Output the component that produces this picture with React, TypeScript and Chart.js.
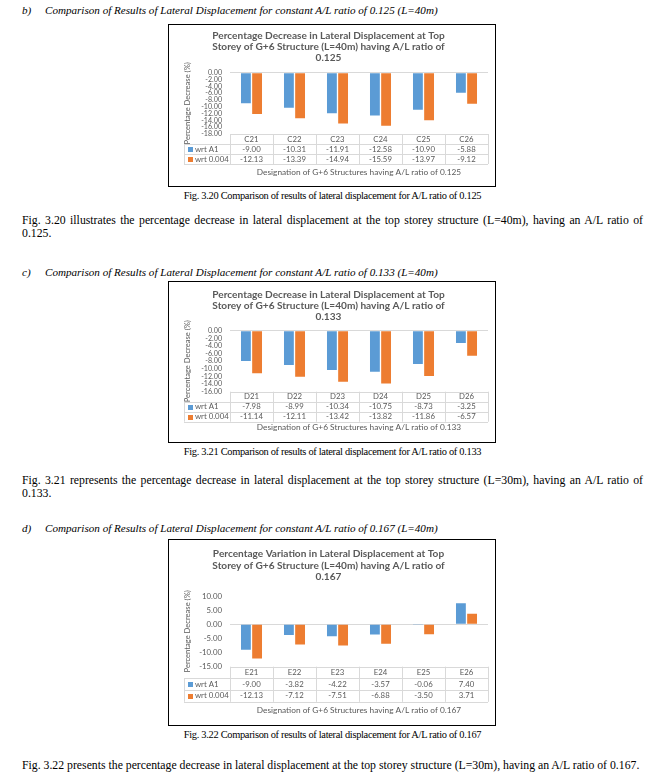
import React, { useEffect, useRef } from 'react';
import { Chart, registerables } from 'chart.js';
Chart.register(...registerables);

const SERIES = ['wrt A1', 'wrt 0.004'];
const COLORS = ['#5B9BD5', '#ED7D31'];

const CAT_C = ['C21', 'C22', 'C23', 'C24', 'C25', 'C26'];
const A1_C = [-9.0, -10.31, -11.91, -12.58, -10.9, -5.88];
const B_C = [-12.13, -13.39, -14.94, -15.59, -13.97, -9.12];

const CAT_D = ['D21', 'D22', 'D23', 'D24', 'D25', 'D26'];
const A1_D = [-7.98, -8.99, -10.34, -10.75, -8.73, -3.25];
const B_D = [-11.14, -12.11, -13.42, -13.82, -11.86, -6.57];

const CAT_E = ['E21', 'E22', 'E23', 'E24', 'E25', 'E26'];
const A1_E = [-9.0, -3.82, -4.22, -3.57, -0.06, 7.4];
const B_E = [-12.13, -7.12, -7.51, -6.88, -3.5, 3.71];

const TITLE_C = ['Percentage Decrease in Lateral Displacement at Top', 'Storey of G+6 Structure (L=40m) having A/L ratio of', '0.125'];
const TITLE_D = ['Percentage Decrease in Lateral Displacement at Top', 'Storey of G+6 Structure (L=40m) having A/L ratio of', '0.133'];
const TITLE_E = ['Percentage Variation in Lateral Displacement at Top', 'Storey of G+6 Structure (L=40m) having A/L ratio of', '0.167'];
const XT_C = 'Designation of G+6 Structures having A/L ratio of 0.125';
const XT_D = 'Designation of G+6 Structures having A/L ratio of 0.133';
const XT_E = 'Designation of G+6 Structures having A/L ratio of 0.167';
const Y_TITLE = 'Percentage Decrease (%)';

const FONT = 'Lato';
const TXT = '#595959';

const tablePlugin = {
  id: 'dataTable',
  afterDraw(chart: any, _args: any, opts: any) {
    const { ctx, chartArea } = chart;
    const xs = chart.scales.x;
    const n = opts.categories.length;
    const left = chartArea.left;
    const right = chartArea.right;
    const colW = (right - left) / n;
    const top = chartArea.bottom;
    const rh = opts.rowH;
    const ll = opts.legendLeft;
    ctx.save();
    ctx.strokeStyle = '#d9d9d9';
    ctx.lineWidth = 1;
    const hl = (y: number, x0: number, x1: number) => {
      ctx.beginPath();
      ctx.moveTo(x0, Math.round(y) + 0.5);
      ctx.lineTo(x1, Math.round(y) + 0.5);
      ctx.stroke();
    };
    const vl = (x: number, y0: number, y1: number) => {
      ctx.beginPath();
      ctx.moveTo(Math.round(x) + 0.5, y0);
      ctx.lineTo(Math.round(x) + 0.5, y1);
      ctx.stroke();
    };
    hl(top, left, right);
    hl(top + rh, ll, right);
    hl(top + 2 * rh, ll, right);
    hl(top + 3 * rh, ll, right);
    for (let i = 0; i <= n; i++) vl(left + i * colW, top, top + 3 * rh);
    vl(ll, top + rh, top + 3 * rh);

    ctx.font = `${opts.fontSize}px ${FONT}`;
    ctx.fillStyle = TXT;
    ctx.textBaseline = 'middle';
    ctx.textAlign = 'center';
    opts.categories.forEach((c: string, i: number) => {
      ctx.fillText(c, xs.getPixelForValue(i), top + rh / 2);
    });
    chart.data.datasets.forEach((ds: any, r: number) => {
      const cy = top + rh * (r + 1.5);
      ctx.textAlign = 'center';
      ctx.fillStyle = TXT;
      ds.data.forEach((v: number, i: number) => {
        ctx.fillText(v.toFixed(2), xs.getPixelForValue(i), cy);
      });
      ctx.fillStyle = ds.backgroundColor;
      ctx.fillRect(ll + 4, Math.round(cy) - 2, 5, 5);
      ctx.fillStyle = TXT;
      ctx.textAlign = 'left';
      ctx.fillText(ds.label, ll + 11, cy);
    });
    ctx.textAlign = 'center';
    ctx.font = `${opts.xTitleSize}px ${FONT}`;
    ctx.fillText(opts.xTitle, (left + right) / 2, opts.xTitleY);
    ctx.restore();
  },
};

type Cfg = {
  categories: string[];
  a: number[];
  b: number[];
  title: string[];
  xTitle: string;
  boxTop: number;
  boxBottom: number;
  titleY: number;
  lh: number;
  plotTop: number;
  plotBottom: number;
  rowH: number;
  xTitleY: number;
  yMin: number;
  yMax: number;
  step: number;
  tickSize: number;
};

const BOX_LEFT = 168;
const BOX_W = 328;
const PLOT_LEFT = 230;
const PLOT_RIGHT = 488;

function ChartBox({ cfg }: { cfg: Cfg }) {
  const ref = useRef<HTMLCanvasElement | null>(null);
  const W = BOX_W - 2;
  const H = cfg.boxBottom - cfg.boxTop - 2;
  const oy = cfg.boxTop + 1;
  const ox = BOX_LEFT + 1;
  useEffect(() => {
    if (!ref.current) return;
    const plotTop = cfg.plotTop - oy;
    const plotBottom = cfg.plotBottom - oy;
    const titleFirst = cfg.titleY - oy;
    const tPadTop = titleFirst - cfg.lh / 2;
    const tPadBottom = plotTop - tPadTop - 3 * cfg.lh;
    const titleSize = 10.1;
    const chart = new Chart(ref.current, {
      type: 'bar',
      data: {
        labels: cfg.categories,
        datasets: [
          { label: SERIES[0], data: cfg.a, backgroundColor: COLORS[0] },
          { label: SERIES[1], data: cfg.b, backgroundColor: COLORS[1] },
        ],
      },
      options: {
        animation: false,
        responsive: false,
        devicePixelRatio: 1,
        layout: { padding: { left: 0, right: W - (PLOT_RIGHT - ox), top: 0, bottom: 0 } },
        datasets: { bar: { categoryPercentage: 0.52, barPercentage: 0.88 } },
        plugins: {
          legend: { display: false },
          tooltip: { enabled: false },
          title: {
            display: true,
            text: cfg.title,
            color: TXT,
            font: { family: FONT, size: titleSize, weight: 'bold', lineHeight: cfg.lh / titleSize },
            padding: { top: tPadTop, bottom: tPadBottom },
          },
          dataTable: {
            categories: cfg.categories,
            rowH: cfg.rowH,
            legendLeft: 15,
            fontSize: 7.8,
            xTitle: cfg.xTitle,
            xTitleSize: 8.3,
            xTitleY: cfg.xTitleY - oy,
          },
        } as any,
        scales: {
          x: {
            ticks: { display: false },
            grid: { display: false },
            border: { display: false },
            afterFit: (s: any) => {
              s.height = H - plotBottom;
            },
          },
          y: {
            min: cfg.yMin,
            max: cfg.yMax,
            ticks: {
              stepSize: cfg.step,
              autoSkip: false,
              color: TXT,
              padding: 8,
              font: { family: FONT, size: cfg.tickSize },
              callback: (v: any) => Number(v).toFixed(2),
            },
            grid: {
              drawTicks: false,
              color: (c: any) => (c.tick && c.tick.value === 0 ? '#d9d9d9' : 'rgba(0,0,0,0)'),
            },
            border: { display: false },
            title: {
              display: true,
              text: Y_TITLE,
              color: TXT,
              font: { family: FONT, size: 7.6, lineHeight: 1.2 },
              padding: { top: 19 - 4.6, bottom: 0 },
            },
            afterFit: (s: any) => {
              s.width = PLOT_LEFT - ox;
            },
          },
        },
      },
      plugins: [tablePlugin],
    });
    return () => chart.destroy();
  }, []);
  return (
    <div
      style={{
        position: 'absolute',
        left: BOX_LEFT,
        top: cfg.boxTop,
        width: W,
        height: H,
        border: '1px solid #000',
        background: '#fff',
      }}
    >
      <canvas ref={ref} width={W} height={H} style={{ display: 'block', width: W, height: H }} />
    </div>
  );
}

const SERIF = '"Liberation Serif", "Times New Roman", serif';
const FS_BODY = 11.75;
const FS_CAP = 10.4;
const FS_HEAD = 11.1;

function Line({ y, x = 22, fs = FS_BODY, children, style }: any) {
  return (
    <div
      style={{
        position: 'absolute',
        left: x,
        top: y - 7,
        height: 14,
        lineHeight: '14px',
        fontFamily: SERIF,
        fontSize: fs,
        fontWeight: 400,
        whiteSpace: 'nowrap',
        color: '#000',
        ...style,
      }}
    >
      {children}
    </div>
  );
}

function Heading({ y, letter, text }: any) {
  return (
    <>
      <Line y={y} x={22} fs={FS_HEAD} style={{ fontStyle: 'italic' }}>{letter}</Line>
      <Line y={y} x={45} fs={FS_HEAD} style={{ fontStyle: 'italic' }}>{text}</Line>
    </>
  );
}

function Caption({ y, text }: any) {
  return (
    <Line y={y} x={0} fs={FS_CAP} style={{ width: 665, textAlign: 'center', letterSpacing: '-0.3px' }}>{text}</Line>
  );
}

function Justified({ y, text }: any) {
  return (
    <Line y={y} x={22} style={{ width: 621, textAlign: 'justify', textAlignLast: 'justify' }}>{text}</Line>
  );
}

const CFG_C: Cfg = {
  categories: CAT_C, a: A1_C, b: B_C, title: TITLE_C, xTitle: XT_C,
  boxTop: 24, boxBottom: 187, titleY: 36, lh: 11, plotTop: 72.7, plotBottom: 134,
  rowH: 10, xTitleY: 172, yMin: -18, yMax: 0, step: 2, tickSize: 7.1,
};
const CFG_D: Cfg = {
  categories: CAT_D, a: A1_D, b: B_D, title: TITLE_D, xTitle: XT_D,
  boxTop: 281, boxBottom: 443, titleY: 295, lh: 10.8, plotTop: 330.7, plotBottom: 391.7,
  rowH: 10, xTitleY: 427.7, yMin: -16, yMax: 0, step: 2, tickSize: 7.1,
};
const CFG_E: Cfg = {
  categories: CAT_E, a: A1_E, b: B_E, title: TITLE_E, xTitle: XT_E,
  boxTop: 539, boxBottom: 726, titleY: 554, lh: 11.5, plotTop: 596, plotBottom: 666.7,
  rowH: 11.7, xTitleY: 710, yMin: -15, yMax: 10, step: 5, tickSize: 7.8,
};

export default function App() {
  return (
    <div style={{ position: 'absolute', left: 0, top: 0, width: 665, height: 777, background: '#fff', overflow: 'hidden' }}>
      <Heading y={10} letter="b)" text="Comparison of Results of Lateral Displacement for constant A/L ratio of 0.125 (L=40m)" />
      <ChartBox cfg={CFG_C} />
      <Caption y={196} text="Fig. 3.20 Comparison of results of lateral displacement for A/L ratio of 0.125" />
      <Justified y={221} text="Fig. 3.20 illustrates the percentage decrease in lateral displacement at the top storey structure (L=40m), having an A/L ratio of" />
      <Line y={234}>0.125.</Line>

      <Heading y={272} letter="c)" text="Comparison of Results of Lateral Displacement for constant A/L ratio of 0.133 (L=40m)" />
      <ChartBox cfg={CFG_D} />
      <Caption y={452} text="Fig. 3.21 Comparison of results of lateral displacement for A/L ratio of 0.133" />
      <Justified y={481} text="Fig. 3.21 represents the percentage decrease in lateral displacement at the top storey structure (L=30m), having an A/L ratio of" />
      <Line y={494}>0.133.</Line>

      <Heading y={528} letter="d)" text="Comparison of Results of Lateral Displacement for constant A/L ratio of 0.167 (L=40m)" />
      <ChartBox cfg={CFG_E} />
      <Caption y={735} text="Fig. 3.22 Comparison of results of lateral displacement for A/L ratio of 0.167" />
      <Line y={766}>Fig. 3.22 presents the percentage decrease in lateral displacement at the top storey structure (L=30m), having an A/L ratio of 0.167.</Line>
    </div>
  );
}
